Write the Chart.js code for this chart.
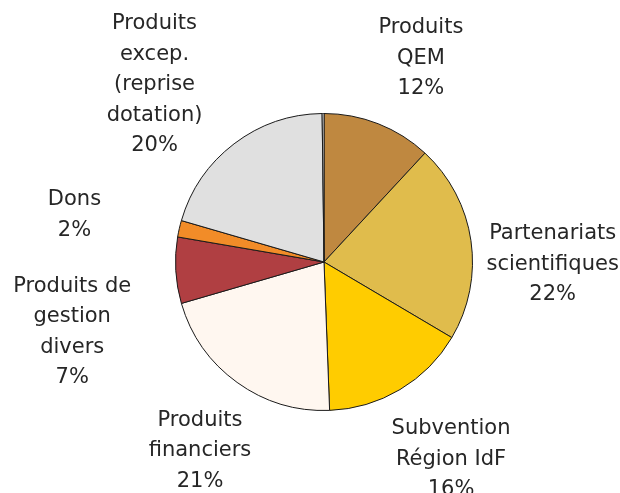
<!DOCTYPE html>
<html>
<head>
<meta charset="utf-8">
<script src="https://cdn.jsdelivr.net/npm/chart.js@4/dist/chart.umd.min.js"></script>
<style>
  html, body { margin: 0; padding: 0; background: #fff; }
  #wrap { width: 620px; height: 493px; }
</style>
</head>
<body>
<div id="wrap"><canvas id="camembert" width="620" height="493"></canvas></div>
<script>
// categories (clockwise from 12 o'clock), lines of each label
const categories = [
    ['Produits', 'QEM'],
    ['Partenariats', 'scientifiques'],
    ['Subvention', 'Région IdF'],
    ['Produits', 'financiers'],
    ['Produits de', 'gestion', 'divers'],
    ['Dons'],
    ['Produits', 'excep.', '(reprise', 'dotation)'],
    ['']
];
// share of total (%)
const valeurs = [11.9, 21.6, 15.9, 21.1, 7.2, 1.8, 20.3, 0.2];
const couleurs = ['#BF8840', '#E0BC4C', '#FFCC00', '#FFF7F0', '#B03F42', '#F28C28', '#E0E0E0', '#FFFFFF'];

// label placement: angle nudge (deg) from slice middle, distance in radii
const decalAngle = [4, 8.9, -2, -2.5, -12.3, -2.3, -6.5, 0];
const distLabel = [1.52, 1.54, 1.58, 1.52, 1.76, 1.71, 1.65, 1.5];

const total = valeurs.reduce((a, b) => a + b, 0);

const etiquettes = {
    id: 'etiquettes',
    afterDatasetsDraw(chart) {
        const ctx = chart.ctx;
        const arcs = chart.getDatasetMeta(0).data;
        ctx.save();
        ctx.font = '21px "DejaVu Sans"';
        ctx.fillStyle = '#262626';
        ctx.textAlign = 'center';
        ctx.textBaseline = 'middle';
        arcs.forEach((arc, i) => {
            const pct = Math.round(valeurs[i] / total * 100);
            if (pct < 1) return;
            const p = arc.getProps(['x', 'y', 'startAngle', 'endAngle', 'outerRadius'], true);
            const a = (p.startAngle + p.endAngle) / 2 + decalAngle[i] * Math.PI / 180;
            const d = p.outerRadius * distLabel[i];
            const cx = p.x + Math.cos(a) * d;
            const cy = p.y + Math.sin(a) * d;
            const lignes = categories[i].concat([pct + '%']);
            const lh = 30.5;
            const y0 = cy - (lignes.length - 1) * lh / 2;
            lignes.forEach((t, k) => ctx.fillText(t, cx, y0 + k * lh));
        });
        ctx.restore();
    }
};

new Chart(document.getElementById('camembert'), {
    type: 'pie',
    data: {
        labels: categories.map(c => c.join(' ')),
        datasets: [{
            data: valeurs,
            backgroundColor: couleurs,
            borderColor: '#1a1a1a',
            borderWidth: 1
        }]
    },
    options: {
        responsive: false,
        animation: false,
        layout: {
            padding: { left: 175, right: 147, top: 113, bottom: 82 }
        },
        plugins: {
            legend: { display: false },
            tooltip: { enabled: false }
        }
    },
    plugins: [etiquettes]
});
</script>
</body>
</html>
